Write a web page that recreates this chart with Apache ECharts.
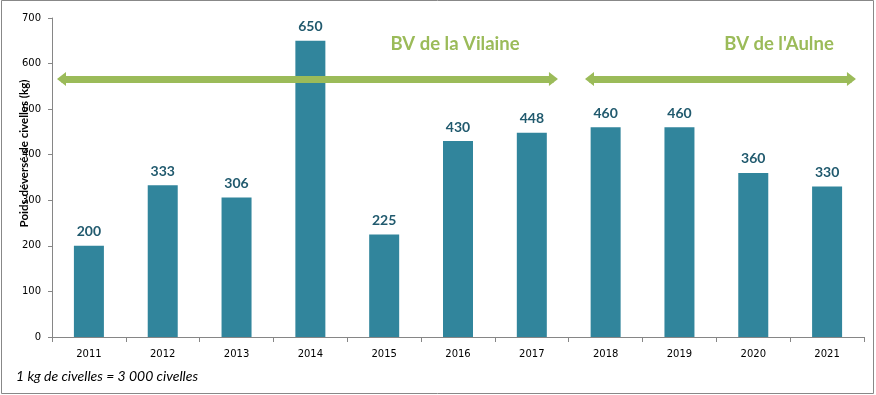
<!DOCTYPE html>
<html><head><meta charset="utf-8">
<script src="https://cdn.jsdelivr.net/npm/echarts@6/dist/echarts.min.js"></script>
<style>html,body{margin:0;padding:0;background:#fff}#c{width:876px;height:395px}</style>
</head><body><div id="c"></div>
<script>
const categories = ['2011','2012','2013','2014','2015','2016','2017','2018','2019','2020','2021'];
const values = [200, 333, 306, 650, 225, 430, 448, 460, 460, 360, 330];
const yTicks = [0, 100, 200, 300, 400, 500, 600, 700];
// Basin spans (category index positions, fractional) and the arrow level (kg)
const basinNames = ['BV de la Vilaine', "BV de l'Aulne"];
const basinStart = [-0.371, 6.781];
const basinEnd = [6.293, 10.33];
const arrowLevel = 566;
const yAxisTitle = 'Poids déversé de civelles (kg)';
const footnote = '1 kg de civelles = 3 000 civelles';

const chart = echarts.init(document.getElementById('c'), null, {renderer: 'canvas'});
const green = '#9BBB59';
const option = {
  animation: false,
  backgroundColor: '#fff',
  grid: {left: 52, right: 12, top: 18, bottom: 58, containLabel: false, outerBoundsMode: 'none'},
  title: {
    text: footnote, left: 16, top: 369, padding: 0,
    textStyle: {fontFamily: 'Lato', fontStyle: 'italic', fontWeight: 'normal', fontSize: 14, color: '#000'}
  },
  xAxis: [{
    type: 'category', data: categories,
    axisLine: {lineStyle: {color: '#868686', width: 1}},
    axisTick: {show: true, alignWithLabel: false, length: 5, lineStyle: {color: '#868686'}},
    axisLabel: {fontFamily: 'DejaVu Sans', fontSize: 10, color: '#000', margin: 12}
  }, {
    type: 'value', min: -0.5, max: categories.length - 0.5, show: false,
    axisLine: {show: false, onZero: false}, splitLine: {show: false}
  }],
  yAxis: {
    type: 'value', min: yTicks[0], max: yTicks[yTicks.length-1], interval: 100,
    name: yAxisTitle, nameLocation: 'middle', nameGap: 22, nameRotate: 90, nameMoveOverlap: false,
    nameTextStyle: {fontFamily: 'Lato', fontWeight: 'bold', fontSize: 11.5, color: '#000', padding: [0, 0, 0, 48]},
    axisLine: {show: true, onZero: false, lineStyle: {color: '#868686', width: 1}},
    axisTick: {show: true, length: 4, lineStyle: {color: '#868686'}},
    splitLine: {show: false},
    axisLabel: {fontFamily: 'DejaVu Sans', fontSize: 10, color: '#000', margin: 11}
  },
  series: [{
    type: 'bar', data: values, barWidth: 30,
    itemStyle: {color: '#31859C'},
    label: {show: true, position: 'top', distance: 7, fontFamily: 'Lato', fontWeight: 'bold', fontSize: 14, color: '#215A6E'}
  }, {
    type: 'line', xAxisIndex: 1, data: [], silent: true, z: 10,
    markLine: {
      silent: true, z: 10, animation: false,
      symbol: ['triangle', 'triangle'], symbolSize: [14, 9],
      lineStyle: {color: green, width: 7, type: 'solid'},
      label: {show: false},
      data: basinStart.map((s, i) => [{coord: [s, arrowLevel]}, {coord: [basinEnd[i], arrowLevel]}])
    }
  }],
  graphic: [
    {type: 'rect', shape: {x: 1.5, y: 0.5, width: 872, height: 393}, style: {fill: 'none', stroke: '#888', lineWidth: 1}, silent: true, z: 100},
    {type: 'text', x: 455, y: 44, style: {text: basinNames[0], align: 'center', verticalAlign: 'middle', fontFamily: 'Lato', fontWeight: 'bold', fontSize: 18.5, fill: green}, z: 100},
    {type: 'text', x: 779, y: 44, style: {text: basinNames[1], align: 'center', verticalAlign: 'middle', fontFamily: 'Lato', fontWeight: 'bold', fontSize: 18.5, fill: green}, z: 100}
  ]
};
chart.setOption(option);
</script></body></html>
